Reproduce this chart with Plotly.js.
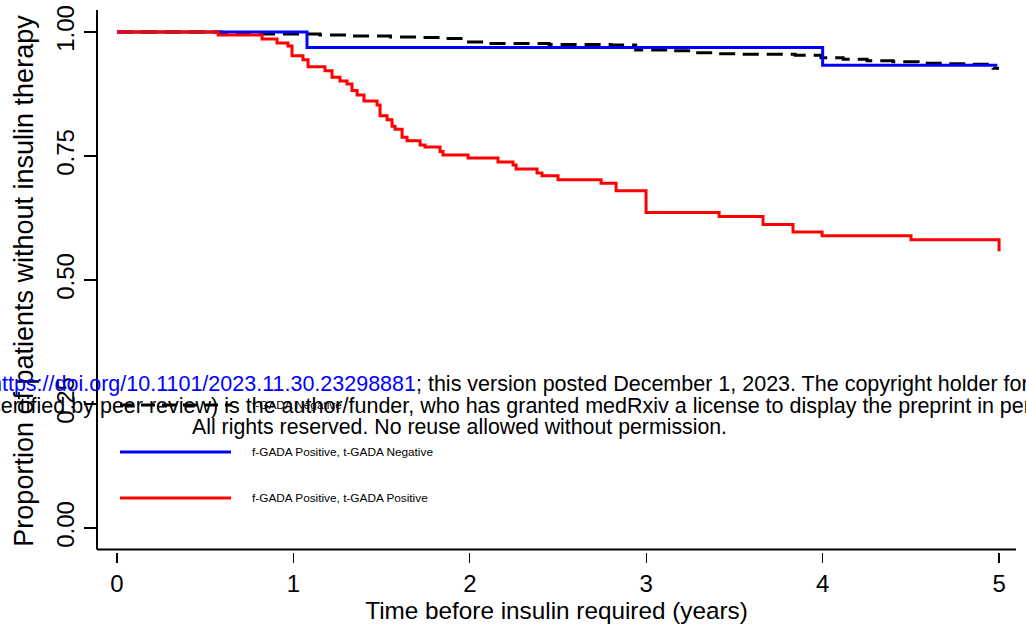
<!DOCTYPE html>
<html><head><meta charset="utf-8">
<script src="https://cdn.plot.ly/plotly-3.0.1.min.js"></script>
<style>html,body{margin:0;padding:0;background:#fff}#chart{width:1026px;height:633px}</style>
</head><body><div id="chart"></div>
<script>
// ---- data ----
const blackTime = [0, 0.59, 0.70, 1.15, 1.30, 1.55, 1.72, 1.85, 1.98, 2.12, 2.45, 2.80, 2.94, 3.135, 3.265, 3.401, 3.543, 3.844, 3.991, 4.116, 4.252, 4.399, 4.541, 4.683, 4.824, 4.966, 5.00];
const blackSurv = [1.0, 0.998, 0.996, 0.994, 0.992, 0.990, 0.989, 0.987, 0.980, 0.977, 0.975, 0.974, 0.964, 0.962, 0.958, 0.956, 0.955, 0.953, 0.948, 0.945, 0.942, 0.940, 0.937, 0.936, 0.935, 0.927, 0.927];

const blueTime = [0, 1.077, 4.00, 4.99];
const blueSurv = [1.0, 0.969, 0.933, 0.933];

const redTime = [0, 0.573, 0.822, 0.907, 0.969, 0.992, 1.054, 1.083, 1.179, 1.219, 1.264, 1.304, 1.332, 1.361, 1.400, 1.474, 1.491, 1.531, 1.559, 1.576, 1.616, 1.644, 1.718, 1.746, 1.831, 1.848, 1.990, 2.160, 2.245, 2.262, 2.381, 2.409, 2.500, 2.744, 2.829, 2.999, 3.413, 3.662, 3.832, 3.997, 4.501, 5.000, 5.000];
const redSurv = [1.0, 0.994, 0.986, 0.978, 0.972, 0.952, 0.944, 0.930, 0.922, 0.909, 0.901, 0.895, 0.882, 0.873, 0.861, 0.853, 0.831, 0.823, 0.810, 0.804, 0.788, 0.781, 0.772, 0.768, 0.759, 0.752, 0.746, 0.738, 0.732, 0.724, 0.716, 0.710, 0.702, 0.695, 0.680, 0.636, 0.628, 0.612, 0.597, 0.589, 0.581, 0.581, 0.558];

const xTicks = [0, 1, 2, 3, 4, 5];
const xTickLabels = ['0', '1', '2', '3', '4', '5'];
const yTicks = [0, 0.25, 0.5, 0.75, 1.0];
const yTickLabels = ['0.00', '0.25', '0.50', '0.75', '1.00'];

const seriesNames = ['f-GADA Negative', 'f-GADA Positive, t-GADA Negative', 'f-GADA Positive, t-GADA Positive'];
const seriesColors = ['#000000', '#0000FF', '#FF0000'];
const seriesDash = ['16px,8px', 'solid', 'solid'];

const xTitle = 'Time before insulin required (years)';
const yTitle = 'Proportion of patients without insulin therapy';
const wmLine1Link = 'https://doi.org/10.1101/2023.11.30.23298881';
const wmLine1Rest = '; this version posted December 1, 2023. The copyright holder for this preprint';
const wmLine2 = 'certified by peer review) is the author/funder, who has granted medRxiv a license to display the preprint in perpetuity.';
const wmLine3 = 'All rights reserved. No reuse allowed without permission.';

// ---- layout helpers (pixel geometry) ----
const W = 1026, H = 633;
const L = 97, R = 10, T = 10, B = 81;
const PW = W - L - R, PH = H - T - B;
const px = x => (x - L) / PW;          // pixel -> paper x
const py = y => (H - B - y) / PH;      // pixel -> paper y
const FONT = '"Liberation Sans", Arial, sans-serif';

const times = [blackTime, blueTime, redTime];
const survs = [blackSurv, blueSurv, redSurv];
const traces = [0, 1, 2].map(i => ({
  type: 'scatter', mode: 'lines', x: times[i], y: survs[i], name: seriesNames[i],
  line: {shape: 'hv', color: seriesColors[i], width: 3, dash: seriesDash[i]},
  hoverinfo: 'skip'
}));

const legendY = [405, 452, 498];
const shapes = [
  // L-shaped axis frame
  {type: 'line', xref: 'paper', yref: 'paper', x0: 0, x1: 0, y0: py(549.5), y1: py(10), line: {color: '#000', width: 2}},
  {type: 'line', xref: 'paper', yref: 'paper', x0: 0, x1: px(1016), y0: py(549.5), y1: py(549.5), line: {color: '#000', width: 2}}
];
const annotations = [];
[0, 1, 2].forEach(i => {
  shapes.push({type: 'line', xref: 'paper', yref: 'paper', x0: px(120), x1: px(231), y0: py(legendY[i]), y1: py(legendY[i]),
    line: {color: seriesColors[i], width: 3, dash: i === 0 ? '14px,7px' : 'solid'}});
  annotations.push({xref: 'paper', yref: 'paper', x: px(250), y: py(legendY[i]), xanchor: 'left', yanchor: 'middle',
    text: seriesNames[i], showarrow: false, font: {family: FONT, size: 11.8, color: '#000'}});
});
annotations.push({xref: 'paper', yref: 'paper', x: px(-12), y: py(384), xanchor: 'left', yanchor: 'middle', showarrow: false,
  text: '<span style="color:#0000FF">' + wmLine1Link + '</span>' + wmLine1Rest, font: {family: FONT, size: 21.5, color: '#000'}});
annotations.push({xref: 'paper', yref: 'paper', x: px(-12), y: py(406), xanchor: 'left', yanchor: 'middle', showarrow: false,
  text: wmLine2, font: {family: FONT, size: 21.5, color: '#000'}});
annotations.push({xref: 'paper', yref: 'paper', x: px(459), y: py(427), xanchor: 'center', yanchor: 'middle', showarrow: false,
  text: wmLine3, font: {family: FONT, size: 21.3, color: '#000'}});

const layout = {
  width: W, height: H,
  margin: {l: L, r: R, t: T, b: B, pad: 0},
  paper_bgcolor: '#fff', plot_bgcolor: '#fff',
  showlegend: false,
  xaxis: {
    range: [-0.1134, 5.096], tickvals: xTicks, ticktext: xTickLabels,
    ticks: 'outside', ticklen: 10, tickwidth: 1.2, tickcolor: '#000',
    showgrid: false, zeroline: false, showline: false, automargin: false,
    tickfont: {family: FONT, size: 24, color: '#000'},
    title: {text: xTitle, font: {family: FONT, size: 24.3, color: '#000'}, standoff: 0}
  },
  yaxis: {
    range: [-0.0484, 1.0444], tickvals: yTicks, ticktext: yTickLabels,
    ticks: 'outside', ticklen: 12, tickwidth: 1.5, tickcolor: '#000', tickangle: -90,
    showgrid: false, zeroline: false, showline: false, automargin: false,
    tickfont: {family: FONT, size: 24, color: '#000'},
    title: {text: yTitle, font: {family: FONT, size: 27, color: '#000'}, standoff: 10}
  },
  shapes: shapes,
  annotations: annotations
};

Plotly.newPlot('chart', traces, layout, {staticPlot: true, displayModeBar: false});
</script>
</body></html>
